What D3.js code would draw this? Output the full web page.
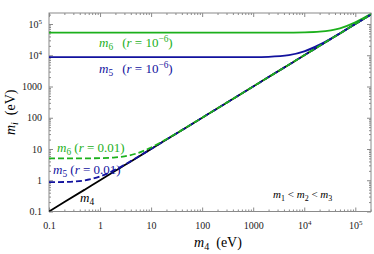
<!DOCTYPE html>
<html>
<head>
<meta charset="utf-8">
<script src="https://cdn.jsdelivr.net/npm/d3@7"></script>
<style>
  body { margin: 0; background: #fff; }
  svg { display: block; font-family: "Liberation Serif", "DejaVu Serif", serif; }
</style>
</head>
<body>
<svg id="chart" width="374" height="254"></svg>
<script>
// m4 grid (eV) and the curves
const m4Grid = [0.1, 0.2, 0.5, 1, 2, 3, 5, 10, 20, 50, 100, 1000, 2000, 5000, 1e4, 2e4, 5e4, 1e5, 2e5]

const m4Line = [0.1, 0.2, 0.5, 1, 2, 3, 5, 10, 20, 50, 100, 1000, 2000, 5000, 1e4, 2e4, 5e4, 1e5, 2e5]
const m5Small = [8700, 8700, 8700, 8700, 8700, 8700, 8700, 8700, 8700, 8700, 8700, 8760, 8930, 10030, 13250, 21800, 50750, 100400, 200200]
const m6Small = [53000, 53000, 53000, 53000, 53000, 53000, 53000, 53000, 53000, 53000, 53000, 53010, 53040, 53240, 53940, 56650, 72860, 113200, 206900]
const m5Big = [0.87, 0.88, 0.99, 1.32, 2.18, 3.12, 5.07, 10.04, 20.02, 50, 100, 1000, 2000, 5000, 1e4, 2e4, 5e4, 1e5, 2e5]
const m6Big = [5.0, 5.0, 5.02, 5.1, 5.39, 5.83, 7.07, 11.18, 20.62, 50.25, 100.1, 1000, 2000, 5000, 1e4, 2e4, 5e4, 1e5, 2e5]

const majorTicks = [0.1, 1, 10, 100, 1000, 1e4, 1e5]
const tickLabels = ['0.1', '1', '10', '100', '1000', '10^4', '10^5']

const green = '#1cb01c'
const blue = '#12129e'

const svg = d3.select('#chart')
const plotLeft = 49, plotRight = 371, plotTop = 13, plotBottom = 211.5

const x = d3.scaleLog().domain([0.1, 2.03e5]).range([plotLeft, plotRight])
const y = d3.scaleLog().domain([0.1, 2.25e5]).range([plotBottom, plotTop])

// minor ticks 2..9 for each decade
let minorTicks = []
for (let e = -1; e <= 5; e++) {
    for (let k = 2; k <= 9; k++) {
        let v = k * Math.pow(10, e)
        if (v < 2.03e5) minorTicks.push(v)
    }
}

const frameColor = '#8a8a8a'

function styleAxis(g) {
    g.select('.domain').remove()
    g.selectAll('line').attr('stroke', frameColor)
}

function labelFormat(sel) {
    sel.each(function (d) {
        let t = d3.select(this)
        let lab = tickLabels[majorTicks.indexOf(d)]
        t.text(null)
        if (lab.indexOf('^') >= 0) {
            let parts = lab.split('^')
            t.append('tspan').text(parts[0])
            t.append('tspan').text(parts[1]).attr('dy', -4).style('font-size', '7px')
        } else {
            t.text(lab)
        }
    })
}

// bottom
let gx = svg.append('g').attr('transform', `translate(0,${plotBottom})`)
    .call(d3.axisBottom(x).tickValues(majorTicks).tickSize(-4).tickPadding(10))
styleAxis(gx)
gx.selectAll('text').attr('fill', '#222').style('font-size', '10px').style('font-family', 'Liberation Serif').call(labelFormat)
let gxm = svg.append('g').attr('transform', `translate(0,${plotBottom})`)
    .call(d3.axisBottom(x).tickValues(minorTicks).tickSize(-2).tickFormat(''))
styleAxis(gxm)

// top
let gt = svg.append('g').attr('transform', `translate(0,${plotTop})`)
    .call(d3.axisTop(x).tickValues(majorTicks).tickSize(-4).tickFormat(''))
styleAxis(gt)
let gtm = svg.append('g').attr('transform', `translate(0,${plotTop})`)
    .call(d3.axisTop(x).tickValues(minorTicks).tickSize(-2).tickFormat(''))
styleAxis(gtm)

// left
let gy = svg.append('g').attr('transform', `translate(${plotLeft},0)`)
    .call(d3.axisLeft(y).tickValues(majorTicks).tickSize(-4).tickPadding(7))
styleAxis(gy)
gy.selectAll('text').attr('fill', '#222').style('font-size', '10px').style('font-family', 'Liberation Serif').call(labelFormat)
let gym = svg.append('g').attr('transform', `translate(${plotLeft},0)`)
    .call(d3.axisLeft(y).tickValues(minorTicks).tickSize(-2).tickFormat(''))
styleAxis(gym)

// right
let gr = svg.append('g').attr('transform', `translate(${plotRight},0)`)
    .call(d3.axisRight(y).tickValues(majorTicks).tickSize(-4).tickFormat(''))
styleAxis(gr)
let grm = svg.append('g').attr('transform', `translate(${plotRight},0)`)
    .call(d3.axisRight(y).tickValues(minorTicks).tickSize(-2).tickFormat(''))
styleAxis(grm)

// frame
svg.append('rect')
    .attr('x', plotLeft).attr('y', plotTop)
    .attr('width', plotRight - plotLeft).attr('height', plotBottom - plotTop)
    .attr('fill', 'none').attr('stroke', frameColor).attr('stroke-width', 1)

// curves
let defs = svg.append('defs')
defs.append('clipPath').attr('id', 'plotClip')
    .append('rect').attr('x', plotLeft).attr('y', plotTop).attr('width', plotRight - plotLeft).attr('height', plotBottom - plotTop)

const line = d3.line()
    .x(d => x(d[0]))
    .y(d => y(d[1]))
    .curve(d3.curveMonotoneX)

const series = [
    { vals: m4Line, color: '#000', dash: null },
    { vals: m5Small, color: blue, dash: null },
    { vals: m6Small, color: green, dash: null },
    { vals: m5Big, color: blue, dash: '6,3' },
    { vals: m6Big, color: green, dash: '6,3' },
]

let plot = svg.append('g').attr('clip-path', 'url(#plotClip)')
plot.selectAll('path')
    .data(series)
    .join('path')
    .attr('d', s => line(m4Grid.map((m, i) => [m, s.vals[i]])))
    .attr('fill', 'none')
    .attr('stroke', s => s.color)
    .attr('stroke-width', 1.8)
    .attr('stroke-dasharray', s => s.dash)

// labels
function massLabel(px, py, sub, rest, color, size) {
    let t = svg.append('text').attr('x', px).attr('y', py)
        .attr('fill', color).style('font-size', size + 'px')
    t.append('tspan').text('m').style('font-style', 'italic')
    t.append('tspan').text(sub).attr('dy', 3).style('font-size', (size * 0.72) + 'px')
    if (rest) {
        t.append('tspan').attr('dy', -3).text(rest.pre)
        t.append('tspan').text('r').style('font-style', 'italic')
        t.append('tspan').text(' = ' + rest.val)
        if (rest.exp) {
            t.append('tspan').text(rest.exp).attr('dy', -5).style('font-size', (size * 0.72) + 'px')
            t.append('tspan').text(')').attr('dy', 5)
        } else {
            t.append('tspan').text(')')
        }
    }
    return t
}

massLabel(99, 47, '6', { pre: '\u2002\u2009(', val: '10', exp: '\u22126' }, green, 13)
massLabel(99, 73, '5', { pre: '\u2002\u2009(', val: '10', exp: '\u22126' }, blue, 13)
massLabel(57, 152, '6', { pre: ' (', val: '0.01' }, green, 13)
massLabel(53, 174, '5', { pre: ' (', val: '0.01' }, blue, 13)
massLabel(80, 202, '4', null, '#000', 13)

// ordering label
let ord = svg.append('text').attr('x', 273).attr('y', 198).attr('fill', '#000').style('font-size', '11px')
;[['1', ' < '], ['2', ' < '], ['3', '']].forEach(p => {
    ord.append('tspan').text('m').style('font-style', 'italic')
    ord.append('tspan').text(p[0]).attr('dy', 3).style('font-size', '8px')
    ord.append('tspan').text(p[1]).attr('dy', -3)
})

// axis titles
let xt = svg.append('text').attr('x', 218).attr('y', 247).attr('text-anchor', 'middle')
    .attr('fill', '#000').style('font-size', '14px')
xt.append('tspan').text('m').style('font-style', 'italic')
xt.append('tspan').text('4').attr('dy', 3).style('font-size', '10px')
xt.append('tspan').text('\u2002(eV)').attr('dy', -3)

let yt = svg.append('text')
    .attr('transform', `translate(15,${(plotTop + plotBottom) / 2}) rotate(-90)`)
    .attr('text-anchor', 'middle')
    .attr('fill', '#000').style('font-size', '14px')
yt.append('tspan').text('m').style('font-style', 'italic')
yt.append('tspan').text('i').attr('dy', 3).style('font-size', '10px').style('font-style', 'italic')
yt.append('tspan').text('\u2002(eV)').attr('dy', -3)
</script>
</body>
</html>
